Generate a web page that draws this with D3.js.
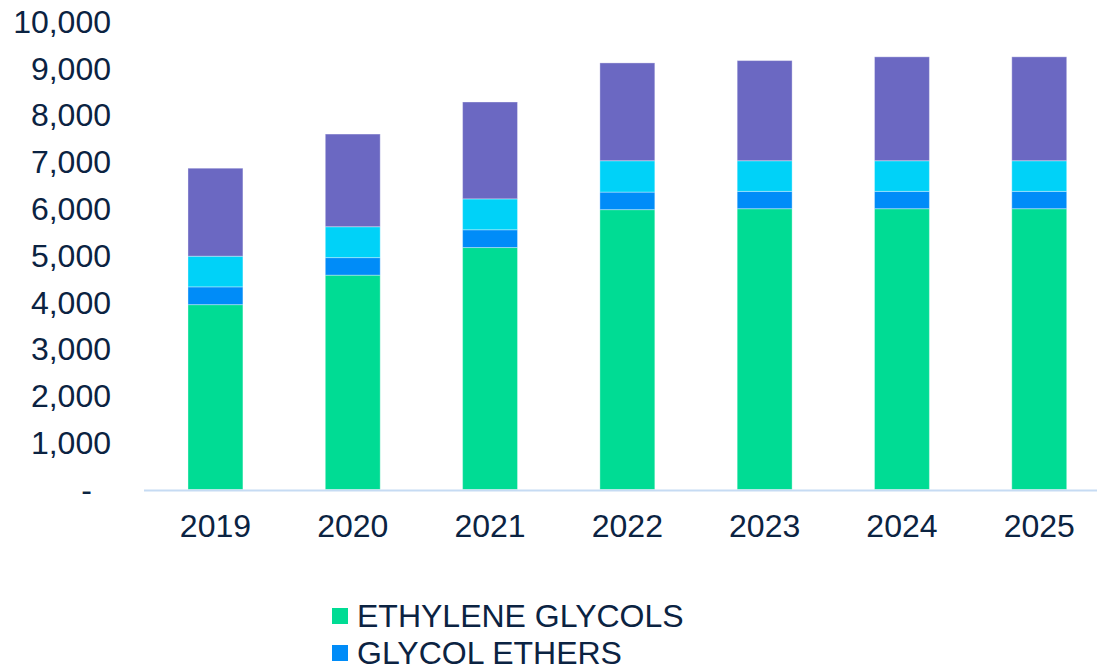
<!DOCTYPE html>
<html>
<head>
<meta charset="utf-8">
<script src="https://cdn.jsdelivr.net/npm/d3@7"></script>
<style>
  body { margin: 0; background: #fff; }
  svg { display: block; font-family: "Liberation Sans", Arial, sans-serif; }
  .tick-label { fill: #0b2342; font-size: 32px; }
  .legend-label { fill: #0b2342; font-size: 32px; }
</style>
</head>
<body>
<svg id="chart"></svg>
<script>
const years = ["2019", "2020", "2021", "2022", "2023", "2024", "2025"];
const seriesNames = ["ETHYLENE GLYCOLS", "GLYCOL ETHERS", "SERIES 3", "SERIES 4"];
const ethyleneGlycols = [3950, 4580, 5170, 5980, 6000, 6000, 6000];
const glycolEthers = [380, 375, 380, 375, 370, 370, 370];
const series3 = [655, 660, 660, 670, 655, 655, 655];
const series4 = [1880, 1980, 2070, 2090, 2140, 2220, 2220];
const yTicks = [0, 1000, 2000, 3000, 4000, 5000, 6000, 7000, 8000, 9000, 10000];
const legendShown = 2; // only first two entries fit in the frame

const colors = ["#00dc94", "#008cf8", "#00d2f8", "#6b68c2"];
const W = 1097, H = 669;

const svg = d3.select("#chart").attr("width", W).attr("height", H);

const rows = years.map((yr, i) => ({
  year: yr,
  [seriesNames[0]]: ethyleneGlycols[i],
  [seriesNames[1]]: glycolEthers[i],
  [seriesNames[2]]: series3[i],
  [seriesNames[3]]: series4[i]
}));
const stacked = d3.stack().keys(seriesNames)(rows);

const x = d3.scaleBand()
  .domain(years)
  .range([146.8, 1107.9])
  .paddingInner(0.6)
  .paddingOuter(0.3);

const y = d3.scaleLinear().domain([0, 10000]).range([489.5, 21.5]);

// bars
svg.append("g")
  .selectAll("g")
  .data(stacked)
  .join("g")
  .attr("fill", (d, i) => colors[i])
  .selectAll("rect")
  .data(d => d)
  .join("rect")
  .attr("x", d => x(d.data.year))
  .attr("width", x.bandwidth())
  .attr("y", d => y(d[1]))
  .attr("height", d => y(d[0]) - y(d[1]))
  .attr("stroke", "#ffffff")
  .attr("stroke-opacity", 0.35)
  .attr("stroke-width", 1);

// baseline
svg.append("line")
  .attr("x1", 144)
  .attr("x2", W)
  .attr("y1", y(0) + 1)
  .attr("y2", y(0) + 1)
  .attr("stroke", "#c6dbf3")
  .attr("stroke-width", 2);

// y tick labels
const fmt = d3.format(",");
svg.append("g")
  .selectAll("text")
  .data(yTicks)
  .join("text")
  .attr("class", "tick-label")
  .attr("x", d => d === 0 ? 92 : 111)
  .attr("y", d => y(d))
  .attr("dy", "0.35em")
  .attr("text-anchor", "end")
  .text(d => d === 0 ? "-" : fmt(d));

// x tick labels
svg.append("g")
  .selectAll("text")
  .data(years)
  .join("text")
  .attr("class", "tick-label")
  .attr("x", d => x(d) + x.bandwidth() / 2)
  .attr("y", 526)
  .attr("dy", "0.35em")
  .attr("text-anchor", "middle")
  .text(d => d);

// legend
const legend = svg.append("g").attr("transform", "translate(332,616)");
legend.selectAll("g")
  .data(seriesNames.slice(0, legendShown))
  .join("g")
  .attr("transform", (d, i) => `translate(0,${i * 37})`)
  .call(g => g.append("rect")
    .attr("y", -8)
    .attr("width", 16)
    .attr("height", 16)
    .attr("fill", (d, i) => colors[i]))
  .call(g => g.append("text")
    .attr("class", "legend-label")
    .attr("x", 25)
    .attr("dy", "0.35em")
    .text(d => d));
</script>
</body>
</html>
